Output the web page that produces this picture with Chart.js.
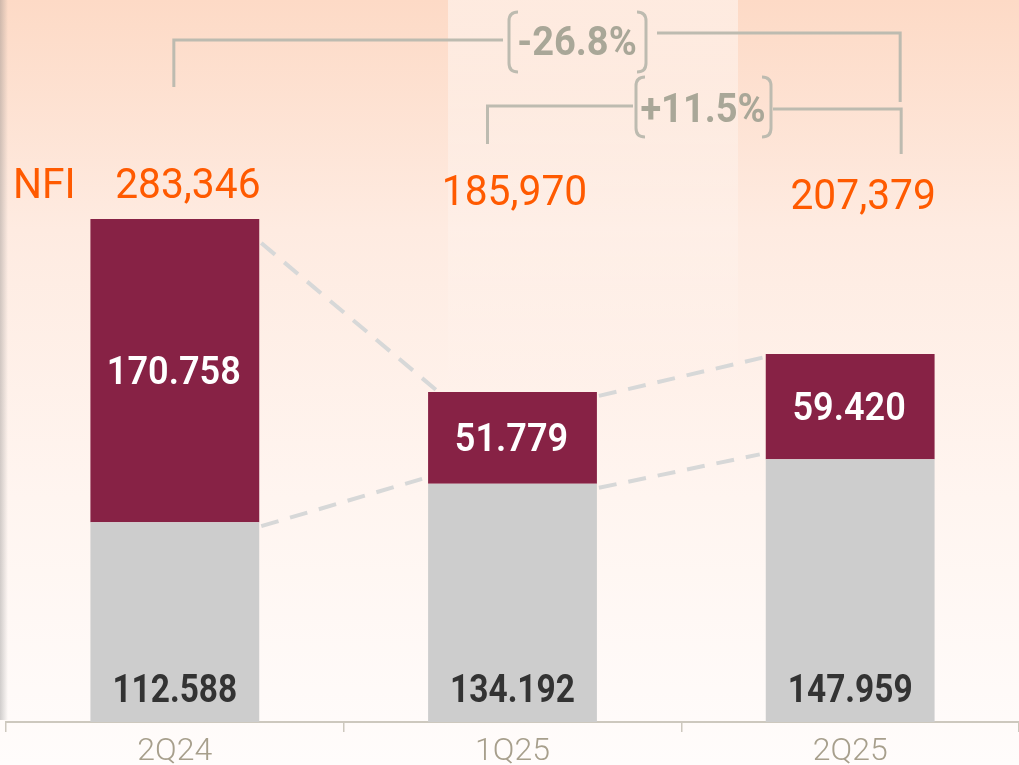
<!DOCTYPE html>
<html>
<head>
<meta charset="utf-8">
<script src="https://cdn.jsdelivr.net/npm/chart.js@4.4.1/dist/chart.umd.min.js"></script>
<style>
  html, body { margin: 0; padding: 0; background: #fff; }
  #wrap { width: 1019px; height: 765px; position: relative; }
</style>
</head>
<body>
<div id="wrap"><canvas id="myChart"></canvas></div>
<script>
// data
const categories = ['2Q24', '1Q25', '2Q25'];
const greyValues = [112.588, 134.192, 147.959];
const redValues = [170.758, 51.779, 59.420];
const greyLabels = ['112.588', '134.192', '147.959'];
const redLabels = ['170.758', '51.779', '59.420'];
const totalLabels = ['283,346', '185,970', '207,379'];
const growthLabels = ['-26.8%', '+11.5%'];

const GREY = '#cdcdcd';
const RED = '#872245';
const ORANGE = '#ff5a00';
const BRACKET = '#bdbbb0';

// little nudges of the total labels, like in the slide
const totalDx = [13, 2, 13];
const totalDy = [187, 194, 198];

const bgPlugin = {
  id: 'bg',
  beforeDraw(chart) {
    const c = chart.ctx;
    const w = chart.width, h = chart.height;
    c.save();
    let g = c.createLinearGradient(0, 0, 0, h);
    g.addColorStop(0, '#fddac6');
    g.addColorStop(0.3, '#feebe1');
    g.addColorStop(0.65, '#fff5f0');
    g.addColorStop(1, '#fffcfb');
    c.fillStyle = g;
    c.fillRect(0, 0, w, h);

    // lighter band over the middle column
    let g2 = c.createLinearGradient(0, 0, 0, 400);
    g2.addColorStop(0, 'rgba(255,255,255,0.45)');
    g2.addColorStop(1, 'rgba(255,255,255,0)');
    c.fillStyle = g2;
    c.fillRect(448, 0, 290, 400);

    // shadow strip on the left edge
    let g3 = c.createLinearGradient(0, 0, 8, 0);
    g3.addColorStop(0, 'rgba(120,120,120,0.35)');
    g3.addColorStop(1, 'rgba(120,120,120,0)');
    c.fillStyle = g3;
    c.fillRect(0, 0, 8, 720);
    c.restore();
  }
};

function paren(c, x, y1, y2, dir) {
  // rounded bracket side, dir 1 = left "(" , -1 = right ")"
  const r = 9;
  c.beginPath();
  c.moveTo(x + dir * r, y1);
  c.quadraticCurveTo(x, y1, x, y1 + r);
  c.lineTo(x, y2 - r);
  c.quadraticCurveTo(x, y2, x + dir * r, y2);
  c.stroke();
}

// text squeezed a bit, the slide font is narrower than Roboto
function narrowText(c, txt, x, y, sx) {
  c.save();
  c.translate(x, y);
  c.scale(sx, 1);
  c.fillText(txt, 0, 0);
  c.restore();
}

const overlayPlugin = {
  id: 'overlay',
  beforeDatasetsDraw(chart) {
    const c = chart.ctx;
    const g = chart.getDatasetMeta(0).data;
    const r = chart.getDatasetMeta(1).data;
    c.save();
    c.strokeStyle = '#d7d8d8';
    c.lineWidth = 4;
    c.setLineDash([18, 12]);
    for (let i = 0; i < g.length - 1; i++) {
      const w = g[i].width / 2;
      // along the tops
      c.beginPath();
      c.moveTo(r[i].x + w + 2, r[i].y + (i === 0 ? 24 : 4));
      c.lineTo(r[i + 1].x - w + (i === 0 ? 8 : 0), r[i + 1].y + (i === 0 ? -2 : 3));
      c.stroke();
      // along the grey/red border
      c.beginPath();
      c.moveTo(g[i].x + w + 2, g[i].y + 4);
      c.lineTo(g[i + 1].x - w - 6, g[i + 1].y - 5);
      c.stroke();
    }
    c.restore();
  },
  afterDatasetsDraw(chart) {
    const c = chart.ctx;
    const g = chart.getDatasetMeta(0).data;
    const r = chart.getDatasetMeta(1).data;
    c.save();
    c.textAlign = 'center';
    c.textBaseline = 'middle';

    for (let i = 0; i < g.length; i++) {
      c.fillStyle = '#ffffff';
      c.font = '600 38px Roboto';
      narrowText(c, redLabels[i], r[i].x - 1, (r[i].y + r[i].base) / 2 + 4, 0.95);
      c.fillStyle = '#333333';
      c.font = 'bold 38px Roboto';
      narrowText(c, greyLabels[i], g[i].x, g[i].base - 30, 0.88);

      c.fillStyle = ORANGE;
      c.font = '42px Roboto';
      narrowText(c, totalLabels[i], g[i].x + totalDx[i], totalDy[i], 0.97);
    }
    c.textAlign = 'left';
    narrowText(c, 'NFI', 13, 187, 0.97);

    // growth brackets
    c.strokeStyle = BRACKET;
    c.lineWidth = 3;
    c.lineJoin = 'miter';
    const x0 = g[0].x, x1 = g[1].x, x2 = g[2].x;

    c.beginPath();
    c.moveTo(x0 - 1, 87);
    c.lineTo(x0 - 1, 40);
    c.lineTo(503, 40);
    c.stroke();
    paren(c, 509, 12, 72, 1);
    paren(c, 646, 12, 72, -1);
    c.beginPath();
    c.moveTo(657, 33);
    c.lineTo(x2 + 50, 33);
    c.lineTo(x2 + 50, 102);
    c.stroke();

    c.beginPath();
    c.moveTo(x1 - 25, 144);
    c.lineTo(x1 - 25, 106);
    c.lineTo(633, 106);
    c.stroke();
    paren(c, 636, 77, 137, 1);
    paren(c, 771, 77, 137, -1);
    c.beginPath();
    c.moveTo(773, 109);
    c.lineTo(x2 + 51, 109);
    c.lineTo(x2 + 51, 154);
    c.stroke();

    c.fillStyle = '#a9a798';
    c.font = 'bold 40px Roboto';
    c.textAlign = 'center';
    narrowText(c, growthLabels[0], 577, 45, 0.95);
    narrowText(c, growthLabels[1], 703, 112, 0.95);
    c.restore();
  }
};

const ctx = document.getElementById('myChart');
new Chart(ctx, {
  type: 'bar',
  data: {
    labels: categories,
    datasets: [{
      label: 'grey',
      data: greyValues,
      backgroundColor: GREY,
      barPercentage: 0.5,
      categoryPercentage: 1
    }, {
      label: 'red',
      data: redValues,
      backgroundColor: RED,
      barPercentage: 0.5,
      categoryPercentage: 1
    }]
  },
  options: {
    responsive: true,
    maintainAspectRatio: false,
    animation: false,
    layout: { padding: { top: 12, left: 6, right: 0, bottom: 0 } },
    plugins: {
      legend: { display: false },
      tooltip: { enabled: false }
    },
    scales: {
      x: {
        stacked: true,
        afterFit: function (scale) { scale.height = 43; },
        border: { color: '#cdc8be', width: 2 },
        grid: {
          drawOnChartArea: false,
          drawTicks: true,
          tickLength: 10,
          color: '#cdc8be',
          lineWidth: 1.5
        },
        ticks: {
          color: '#a79f8c',
          padding: 4,
          font: { family: 'Roboto', weight: '300', size: 32, lineHeight: 1 }
        }
      },
      y: {
        stacked: true,
        display: false,
        min: 0,
        max: 400
      }
    }
  },
  plugins: [bgPlugin, overlayPlugin]
});
</script>
</body>
</html>
